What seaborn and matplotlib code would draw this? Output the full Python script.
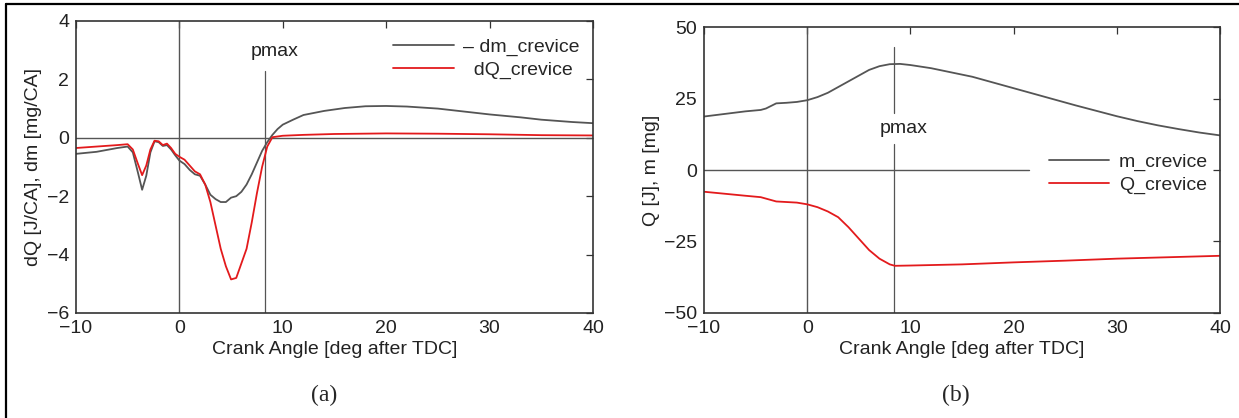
import numpy as np
import pandas as pd
import matplotlib
matplotlib.use("Agg")
import matplotlib.pyplot as plt
from matplotlib.lines import Line2D
import seaborn as sns

# ---------------- data ----------------
ca_dm = [-10, -8, -6, -5, -4.5, -4, -3.6, -3.2, -2.8, -2.4, -2, -1.6, -1.2, -0.8, -0.4,
         0, 0.5, 1, 1.5, 2, 2.5, 3, 3.5, 4, 4.5, 5, 5.5, 6, 6.5, 7, 7.5, 8, 8.5, 9, 9.5,
         10, 11, 12, 14, 16, 18, 20, 22, 25, 28, 30, 33, 35, 38, 40]
dm_crevice = [-0.55, -0.48, -0.35, -0.3, -0.5, -1.2, -1.78, -1.3, -0.5, -0.12, -0.15, -0.28,
              -0.25, -0.4, -0.6, -0.78, -0.9, -1.1, -1.25, -1.3, -1.6, -1.95, -2.1, -2.2,
              -2.2, -2.05, -2.0, -1.85, -1.6, -1.25, -0.85, -0.45, -0.15, 0.1, 0.3,
              0.45, 0.62, 0.78, 0.92, 1.02, 1.08, 1.09, 1.07, 1.0, 0.88, 0.8, 0.7, 0.62, 0.54, 0.5]

ca_dq = [-10, -8, -6, -5, -4.5, -4, -3.6, -3.2, -2.8, -2.4, -2, -1.6, -1.2, -0.8, -0.4,
         0, 0.5, 1, 1.5, 2, 2.5, 3, 3.5, 4, 4.5, 5, 5.5, 6, 6.5, 7, 7.5, 8, 8.5, 9,
         10, 12, 15, 20, 25, 30, 35, 40]
dq_crevice = [-0.35, -0.3, -0.25, -0.22, -0.4, -0.9, -1.28, -0.95, -0.4, -0.1, -0.12, -0.25,
              -0.2, -0.35, -0.55, -0.65, -0.75, -0.95, -1.15, -1.25, -1.6, -2.2, -3.0, -3.8,
              -4.4, -4.85, -4.8, -4.3, -3.8, -2.9, -1.9, -1.0, -0.3, 0.02,
              0.07, 0.1, 0.13, 0.15, 0.14, 0.12, 0.09, 0.08]

ca_m = [-10, -8, -6, -4.5, -4, -3, -2, -1, 0, 1, 2, 3, 4, 5, 6, 7, 8, 9, 10, 12, 14, 16,
        18, 20, 22, 24, 26, 28, 30, 32, 34, 36, 38, 40]
m_crevice = [18.7, 19.6, 20.5, 21.0, 21.5, 23.3, 23.5, 23.8, 24.4, 25.5, 27.0, 29.0, 31.0,
             33.0, 35.0, 36.3, 37.0, 37.1, 36.7, 35.6, 34.1, 32.6, 30.6, 28.6, 26.6, 24.6,
             22.6, 20.7, 18.8, 17.1, 15.6, 14.3, 13.1, 12.1]

ca_q = [-10, -8, -6, -4.5, -4, -3, -2, -1, 0, 1, 2, 3, 4, 5, 6, 7, 8, 8.5, 10, 15, 20,
        25, 30, 35, 40]
q_crevice = [-7.6, -8.3, -9.0, -9.5, -10.0, -11.0, -11.2, -11.4, -12.0, -13.0, -14.5,
             -16.5, -20.0, -24.0, -28.0, -31.0, -33.0, -33.5, -33.4, -33.0, -32.3,
             -31.7, -31.0, -30.5, -30.0]

pmax_ca = 8.3
x_ticks = [-10, 0, 10, 20, 30, 40]
y_ticks_a = [-6, -4, -2, 0, 2, 4]
y_ticks_b = [-50, -25, 0, 25, 50]
x_label = "Crank Angle [deg after TDC]"
y_label_a = "dQ [J/CA], dm [mg/CA]"
y_label_b = "Q [J], m [mg]"

# ---------------- style ----------------
sns.set_style("white")
plt.rcParams["font.family"] = ["Liberation Sans", "DejaVu Sans"]
plt.rcParams["axes.unicode_minus"] = True

GRAY = "#555555"
RED = "#e31a1c"
AX = "#333333"
TXT = "#222222"
FS = 14

fig = plt.figure(figsize=(12.39, 4.18), dpi=100)
axa = fig.add_axes([0.0613, 0.2512, 0.4173, 0.6986])
axb = fig.add_axes([0.5682, 0.2512, 0.4165, 0.6842])

df_dm = pd.DataFrame({"ca": ca_dm, "v": dm_crevice})
df_dq = pd.DataFrame({"ca": ca_dq, "v": dq_crevice})
df_m = pd.DataFrame({"ca": ca_m, "v": m_crevice})
df_q = pd.DataFrame({"ca": ca_q, "v": q_crevice})

def style_axes(ax, yticks, ylim):
    ax.set_xlim(-10, 40)
    ax.set_ylim(*ylim)
    ax.set_xticks(x_ticks)
    ax.set_yticks(yticks)
    ax.tick_params(direction="in", length=5, width=0.9, color=AX, labelsize=FS,
                   top=True, right=True, pad=5, labelcolor=TXT)
    for s in ax.spines.values():
        s.set_color(AX)
        s.set_linewidth(1.2)
    ax.set_xlabel(x_label, fontsize=FS, color=TXT, labelpad=3)

# ---- panel (a)
axa.axhline(0, color=GRAY, lw=1.0, zorder=1)
axa.axvline(0, color=GRAY, lw=1.0, zorder=1)
axa.plot([pmax_ca, pmax_ca], [-6, 2.3], color=GRAY, lw=0.9, zorder=1)
sns.lineplot(data=df_dm, x="ca", y="v", ax=axa, color=GRAY, lw=1.3, label="– dm_crevice")
sns.lineplot(data=df_dq, x="ca", y="v", ax=axa, color=RED, lw=1.3, label="  dQ_crevice")
axa.text(9.2, 2.95, "pmax", ha="center", va="center", fontsize=FS, color=TXT)
style_axes(axa, y_ticks_a, (-6, 4))
axa.set_ylabel(y_label_a, fontsize=FS, color=TXT, labelpad=3)
axa.legend(loc="upper left", bbox_to_anchor=(0.58, 1.0), frameon=False, fontsize=FS,
           handlelength=3.1, handletextpad=0.5, labelspacing=0.25)

# ---- panel (b)
axb.plot([-10, 21.5], [0, 0], color=GRAY, lw=1.0, zorder=1)
axb.axvline(0, color=GRAY, lw=1.0, zorder=1)
axb.plot([8.4, 8.4], [-50, 9], color=GRAY, lw=0.9, zorder=1)
axb.plot([8.4, 8.4], [20, 43], color=GRAY, lw=0.9, zorder=1)
sns.lineplot(data=df_m, x="ca", y="v", ax=axb, color=GRAY, lw=1.3, label="m_crevice")
sns.lineplot(data=df_q, x="ca", y="v", ax=axb, color=RED, lw=1.3, label="Q_crevice")
axb.text(9.3, 14.5, "pmax", ha="center", va="center", fontsize=FS, color=TXT)
style_axes(axb, y_ticks_b, (-50, 50))
axb.set_ylabel(y_label_b, fontsize=FS, color=TXT, labelpad=3)
axb.legend(loc="upper left", bbox_to_anchor=(0.635, 0.62), frameon=False, fontsize=FS,
           handlelength=3.1, handletextpad=0.5, labelspacing=0.25)

# captions
fig.text(324 / 1239, 1 - 395 / 418, "(a)", ha="center", va="center", fontsize=17,
         family=["Liberation Serif", "DejaVu Serif"])
fig.text(956 / 1239, 1 - 395 / 418, "(b)", ha="center", va="center", fontsize=17,
         family=["Liberation Serif", "DejaVu Serif"])

# outer frame lines (left and top)
fig.add_artist(Line2D([5.5 / 1239, 5.5 / 1239], [0, 1 - 4 / 418], color="black", lw=1.6,
                      transform=fig.transFigure))
fig.add_artist(Line2D([5.5 / 1239, 1], [1 - 4 / 418, 1 - 4 / 418], color="black", lw=1.6,
                      transform=fig.transFigure))

fig.savefig("out.png", dpi=100)
